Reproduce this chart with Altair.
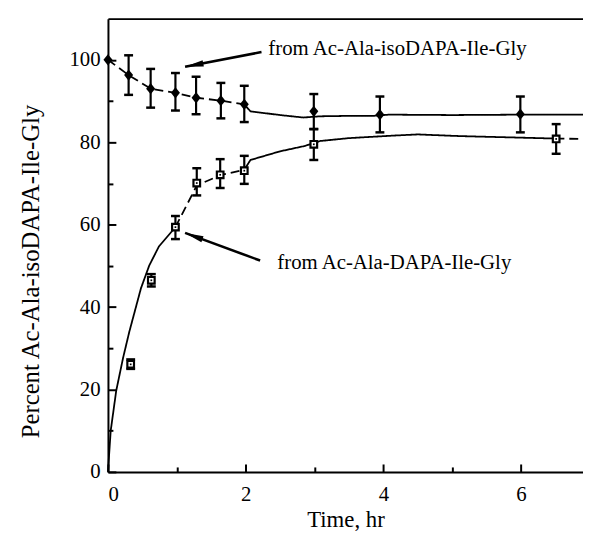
import altair as alt
import pandas as pd

FONT = "Liberation Serif"

# ---- data ----
# from Ac-Ala-isoDAPA-Ile-Gly (filled diamonds)
iso_t = [0, 0.30, 0.62, 0.98, 1.28, 1.64, 1.98, 2.99, 3.95, 5.99]
iso_v = [100, 96.3, 93.0, 92.0, 90.8, 90.1, 89.2, 87.5, 86.7, 86.8]
iso_lo = [100, 91.5, 88.4, 87.7, 86.8, 85.8, 84.9, 83.2, 82.4, 82.4]
iso_hi = [100, 101.1, 97.8, 96.8, 95.9, 94.4, 93.7, 91.7, 91.1, 91.1]

# from Ac-Ala-DAPA-Ile-Gly (open squares)
dapa_t = [0.33, 0.63, 0.98, 1.29, 1.63, 1.98, 2.99, 6.51]
dapa_v = [26.1, 46.5, 59.4, 70.1, 72.1, 73.1, 79.5, 80.8]
dapa_lo = [25.0, 45.0, 56.5, 67.1, 68.9, 69.9, 75.7, 77.2]
dapa_hi = [27.3, 48.0, 62.1, 73.7, 75.9, 76.7, 83.2, 84.4]

# drawn curves (traced), split in dashed / solid pieces
iso_dash_t = [0, 0.30, 0.62, 0.98, 1.28, 1.64, 1.98]
iso_dash_v = [100, 96.3, 93.0, 92.0, 90.8, 90.1, 89.2]
iso_solid_t = [1.98, 2.07, 2.5, 2.84, 3.08, 3.5, 3.85, 4.08, 5.0, 6.0, 6.9]
iso_solid_v = [89.2, 87.5, 86.6, 86.0, 86.3, 86.4, 86.4, 86.7, 86.6, 86.7, 86.7]

dapa_a_t = [0, 0.04, 0.12, 0.22, 0.31, 0.48, 0.6, 0.74, 0.98]
dapa_a_v = [0, 10, 19.7, 27.7, 34.0, 44.6, 50.1, 54.7, 59.4]
dapa_b_t = [0.98, 1.29, 1.63, 1.98]
dapa_b_v = [59.4, 69.5, 72.0, 73.3]
dapa_c_t = [1.98, 2.07, 2.5, 2.86, 3.08, 3.5, 4.13, 4.5, 5.1, 5.8, 6.5]
dapa_c_v = [73.3, 75.7, 77.8, 79.1, 80.3, 81.0, 81.6, 81.9, 81.5, 81.2, 80.9]
dapa_d_t = [6.5, 6.9]
dapa_d_v = [80.9, 80.8]

# annotations
labels = ["from Ac-Ala-isoDAPA-Ile-Gly", "from Ac-Ala-DAPA-Ile-Gly"]
label_t = [2.33, 2.46]
label_v = [102.6, 50.8]
arrow_t1 = [2.23, 2.21]
arrow_v1 = [101.9, 51.3]
arrow_t2 = [1.12, 1.12]
arrow_v2 = [98.3, 58.0]
arrow_angle = [259, 290]

x_major = [0, 2, 4, 6]
x_minor = [1, 3, 5]
y_major = [0, 20, 40, 60, 80, 100]
y_minor = [10, 30, 50, 70, 90]

# ---- tables ----
iso = pd.DataFrame({"t": iso_t, "v": iso_v, "lo": iso_lo, "hi": iso_hi})
iso_err = iso.iloc[1:]
dapa = pd.DataFrame({"t": dapa_t, "v": dapa_v, "lo": dapa_lo, "hi": dapa_hi})
err = pd.concat([iso_err, dapa], ignore_index=True)

pieces = []
for seg, style, ts, vs in [
    ("iso_a", "dash", iso_dash_t, iso_dash_v),
    ("iso_b", "solid", iso_solid_t, iso_solid_v),
    ("dapa_a", "solid", dapa_a_t, dapa_a_v),
    ("dapa_b", "dash", dapa_b_t, dapa_b_v),
    ("dapa_c", "solid", dapa_c_t, dapa_c_v),
    ("dapa_d", "dash", dapa_d_t, dapa_d_v),
]:
    pieces.append(pd.DataFrame({"t": ts, "v": vs, "seg": seg, "style": style}))
curves = pd.concat(pieces, ignore_index=True)

ann = pd.DataFrame({"label": labels, "t": label_t, "v": label_v})
arrows = pd.DataFrame({"t1": arrow_t1, "v1": arrow_v1, "t2": arrow_t2,
                       "v2": arrow_v2, "ang": arrow_angle})

xs = alt.Scale(domain=[0, 6.9], nice=False, zero=False)
ys = alt.Scale(domain=[0, 110], nice=False, zero=False)


def X(field):
    return alt.X(field, scale=xs, axis=None)


def Y(field):
    return alt.Y(field, scale=ys, axis=None)


# main axes with labels
x_main = alt.X("t:Q", scale=xs, axis=alt.Axis(
    orient="bottom", values=x_major, ticks=False, grid=False,
    domainColor="black", domainWidth=2, labelFont=FONT, labelFontSize=21,
    labelColor="black", labelPadding=12, title="Time, hr", titleFont=FONT,
    titleFontSize=23, titleFontWeight="normal", titleColor="black",
    titleBaseline="alphabetic", titleY=55))
y_main = alt.Y("v:Q", scale=ys, axis=alt.Axis(
    orient="left", values=y_major, ticks=False, grid=False,
    domainColor="black", domainWidth=2, labelFont=FONT, labelFontSize=21,
    labelColor="black", labelPadding=8, title="Percent Ac-Ala-isoDAPA-Ile-Gly",
    titleFont=FONT, titleFontSize=25, titleFontWeight="normal",
    titleColor="black", titleBaseline="alphabetic", titleX=-70, titleY=255))

dash_scale = alt.Scale(domain=["solid", "dash"], range=[[1, 0], [9, 5]])

lines = alt.Chart(curves).mark_line(color="black", strokeWidth=1.8).encode(
    x=x_main, y=y_main, detail="seg:N",
    strokeDash=alt.StrokeDash("style:N", scale=dash_scale, legend=None))


def tick_layer(xv, yv, size):
    return alt.Chart(curves).mark_point(opacity=0).encode(
        x=alt.X("t:Q", scale=xs, axis=alt.Axis(
            orient="bottom", offset=-size, values=xv, tickSize=size,
            tickWidth=2, tickColor="black", labels=False, domain=False,
            grid=False, title=None)),
        y=alt.Y("v:Q", scale=ys, axis=alt.Axis(
            orient="left", offset=-size, values=yv, tickSize=size,
            tickWidth=2, tickColor="black", labels=False, domain=False,
            grid=False, title=None)))


major_ticks = tick_layer(x_major, y_major, 8)
minor_ticks = tick_layer(x_minor, y_minor, 5)
top_border = alt.Chart(curves).mark_point(opacity=0).encode(
    x=alt.X("t:Q", scale=xs, axis=alt.Axis(
        orient="top", ticks=False, labels=False, domainColor="black",
        domainWidth=2, grid=False, title=None)),
    y=Y("v:Q"))

bars = alt.Chart(err).mark_rule(color="black", strokeWidth=2.2).encode(
    x=X("t:Q"), y=Y("lo:Q"), y2="hi:Q")
caps_lo = alt.Chart(err).mark_tick(orient="horizontal", color="black",
                                   size=9, thickness=2.5, opacity=1).encode(
    x=X("t:Q"), y=Y("lo:Q"))
caps_hi = alt.Chart(err).mark_tick(orient="horizontal", color="black",
                                   size=9, thickness=2.5, opacity=1).encode(
    x=X("t:Q"), y=Y("hi:Q"))

diamonds = alt.Chart(iso).mark_point(
    shape="M0,-1L0.8,0L0,1L-0.8,0Z", filled=True, color="black",
    size=130, opacity=1).encode(x=X("t:Q"), y=Y("v:Q"))
squares = alt.Chart(dapa).mark_square(
    fill="white", stroke="black", strokeWidth=2.2, size=45, opacity=1).encode(
    x=X("t:Q"), y=Y("v:Q"))
dots = alt.Chart(dapa).mark_square(color="black", size=3, opacity=1).encode(
    x=X("t:Q"), y=Y("v:Q"))

arrow_lines = alt.Chart(arrows).mark_rule(color="black", strokeWidth=2.6).encode(
    x=X("t1:Q"), y=Y("v1:Q"), x2="t2:Q", y2="v2:Q")
arrow_heads = alt.Chart(arrows).mark_point(
    shape="M0,0L0.17,1L-0.17,1Z", filled=True, color="black", size=1400,
    opacity=1).encode(x=X("t2:Q"), y=Y("v2:Q"),
                      angle=alt.Angle("ang:Q", scale=None))

texts = alt.Chart(ann).mark_text(
    align="left", baseline="middle", font=FONT, fontSize=21, color="black").encode(
    x=X("t:Q"), y=Y("v:Q"), text="label:N")

chart = alt.layer(
    lines, major_ticks, minor_ticks, top_border, bars, caps_lo, caps_hi,
    diamonds, squares, dots, arrow_lines, arrow_heads, texts
).resolve_axis(x="independent", y="independent").properties(
    width=480, height=458,
    autosize=alt.AutoSizeParams(type="none"),
    padding={"left": 101, "top": 8, "right": 0, "bottom": 60},
).configure_view(stroke=None).configure(background="white")

chart.save("out.html", embed_options={"renderer": "svg", "actions": False})
